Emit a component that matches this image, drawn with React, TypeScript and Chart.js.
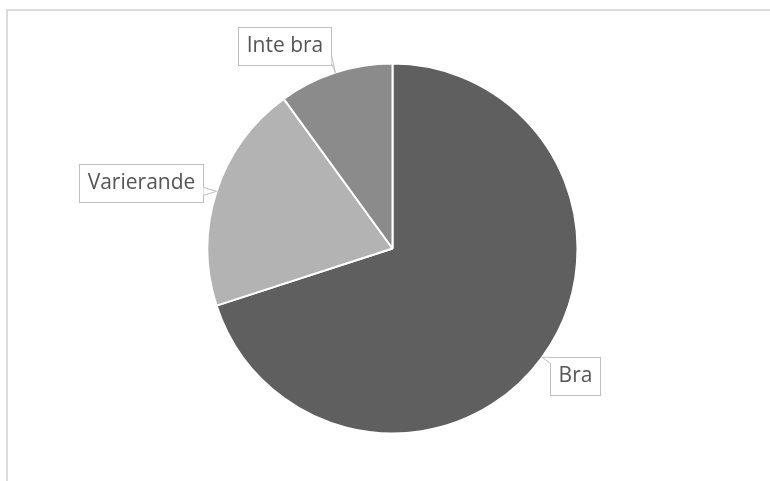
import React, { useEffect, useRef } from "react";
import { Chart, registerables } from "chart.js";

Chart.register(...registerables);

const categories = ["Bra", "Varierande", "Inte bra"];
const values = [70, 20, 10];
const colors = ["#5f5f5f", "#b3b3b3", "#8b8b8b"];
// label box center offsets from the slice's edge anchor (layout only)
const labelOffsets: [number, number][] = [
  [33, 18.5],
  [-76, -8.5],
  [-51, -26.5],
];

const calloutPlugin = {
  id: "callouts",
  afterDraw(chart: any) {
    const ctx = chart.ctx;
    const meta = chart.getDatasetMeta(0);
    ctx.save();
    ctx.font = "21px 'Open Sans', Lato, sans-serif";
    ctx.textBaseline = "middle";
    ctx.textAlign = "center";
    meta.data.forEach((arc: any, i: number) => {
      const p = arc.getProps(["x", "y", "startAngle", "endAngle", "outerRadius"], true);
      const mid = (p.startAngle + p.endAngle) / 2;
      const ax = p.x + Math.cos(mid) * p.outerRadius;
      const ay = p.y + Math.sin(mid) * p.outerRadius;
      const text = categories[i];
      const tw = ctx.measureText(text).width;
      const w = Math.round(tw + 16);
      const h = 38;
      const cx = ax + labelOffsets[i][0];
      const cy = ay + labelOffsets[i][1];
      const x0 = Math.round(cx - w / 2) + 0.5;
      const y0 = Math.round(cy - h / 2) + 0.5;
      const x1 = x0 + w;
      const y1 = y0 + h;
      ctx.fillStyle = "#ffffff";
      ctx.strokeStyle = "#bfbfbf";
      ctx.lineWidth = 1;
      ctx.fillRect(x0, y0, w, h);
      ctx.strokeRect(x0, y0, w, h);
      let b1: [number, number], b2: [number, number];
      const clamp = (v: number, a: number, b: number) => Math.max(a, Math.min(b, v));
      if (ax > x1) {
        const yy = clamp(ay, y0 + 6, y1 - 6);
        b1 = [x1, yy - 4];
        b2 = [x1, yy + 4];
      } else if (ax < x0) {
        const yy = clamp(ay, y0 + 6, y1 - 6);
        b1 = [x0, yy - 4];
        b2 = [x0, yy + 4];
      } else if (ay > y1) {
        const xx = clamp(ax, x0 + 6, x1 - 6);
        b1 = [xx - 4, y1];
        b2 = [xx + 4, y1];
      } else {
        const xx = clamp(ax, x0 + 6, x1 - 6);
        b1 = [xx - 4, y0];
        b2 = [xx + 4, y0];
      }
      if (i === 0) {
        b1 = [x0, y0 + 6];
        b2 = [x0 + 6, y0];
      }
      ctx.beginPath();
      ctx.moveTo(b1[0], b1[1]);
      ctx.lineTo(ax, ay);
      ctx.lineTo(b2[0], b2[1]);
      ctx.closePath();
      ctx.fill();
      ctx.beginPath();
      ctx.moveTo(b1[0], b1[1]);
      ctx.lineTo(ax, ay);
      ctx.lineTo(b2[0], b2[1]);
      ctx.stroke();
      ctx.fillStyle = "#555555";
      ctx.fillText(text, (x0 + x1) / 2, (y0 + y1) / 2);
    });
    ctx.restore();
  },
};

export default function App() {
  const ref = useRef<HTMLCanvasElement>(null);
  useEffect(() => {
    if (!ref.current) return;
    const chart = new Chart(ref.current, {
      type: "pie",
      data: {
        labels: categories,
        datasets: [
          {
            data: values,
            backgroundColor: colors,
            borderColor: "#ffffff",
            borderWidth: 2,
            radius: 185,
          } as any,
        ],
      },
      options: {
        responsive: false,
        animation: false,
        layout: { padding: { left: 15, top: 16, right: 0, bottom: 0 } },
        plugins: {
          legend: { display: false },
          tooltip: { enabled: false },
        },
      },
      plugins: [calloutPlugin],
    });
    return () => chart.destroy();
  }, []);
  return (
    <div
      style={{
        position: "fixed",
        left: 0,
        top: 0,
        width: 770,
        height: 481,
        overflow: "hidden",
        background: "#ffffff",
      }}
    >
      <div
        style={{
          position: "absolute",
          left: 6,
          top: 9,
          width: 820,
          height: 520,
          border: "2px solid #dcdcdc",
        }}
      />
      <canvas
        ref={ref}
        width={770}
        height={481}
        style={{ position: "absolute", left: 0, top: 0, width: 770, height: 481 }}
      />
    </div>
  );
}
